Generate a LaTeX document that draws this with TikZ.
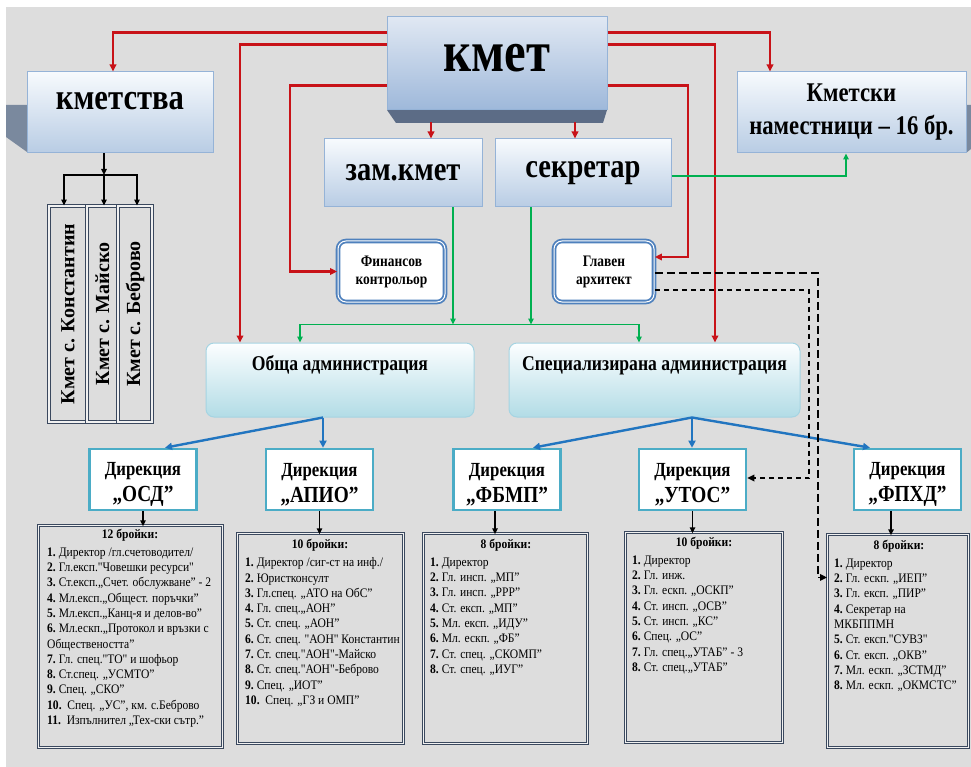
\documentclass[tikz,border=0pt]{standalone}
\usepackage{fontspec}
\setmainfont{Liberation Serif}
\newfontfamily\narrow[FakeStretch=0.84]{Liberation Serif}
\newfontfamily\listfont[FakeStretch=0.89]{Liberation Serif}
\usepackage{graphicx}
\usepackage{tikz}
\usetikzlibrary{arrows.meta}
\definecolor{bggray}{RGB}{221, 221, 221}
\definecolor{kred}{RGB}{200, 18, 24}
\definecolor{kgreen}{RGB}{0, 176, 80}
\definecolor{kblue}{RGB}{33, 117, 192}
\definecolor{boxtop}{RGB}{247, 250, 253}
\definecolor{boxbot}{RGB}{184, 204, 228}
\definecolor{boxedge}{RGB}{149, 179, 215}
\definecolor{kmettop}{RGB}{224, 232, 243}
\definecolor{kmetbot}{RGB}{158, 184, 218}
\definecolor{bevelcol}{RGB}{92, 108, 134}
\definecolor{shadowcol}{RGB}{122, 137, 158}
\definecolor{admtop}{RGB}{252, 254, 255}
\definecolor{admbot}{RGB}{178, 220, 230}
\definecolor{admedge}{RGB}{165, 212, 226}
\definecolor{diredge}{RGB}{75, 172, 198}
\definecolor{finedge}{RGB}{79, 129, 189}
\definecolor{listedge}{RGB}{58, 72, 94}

\tikzset{
  gradbox/.style={draw=boxedge, line width=1pt, top color=boxtop, bottom color=boxbot,
    align=center, font=\narrow\bfseries\fontsize{34}{38}\selectfont},
  admbox/.style={draw=admedge, line width=1pt, rounded corners=8pt, top color=admtop, bottom color=admbot},
  admtext/.style={anchor=base, font=\narrow\bfseries\fontsize{21}{24}\selectfont},
  finbox/.style={draw=finedge, line width=1.8pt, double=white, double distance=1pt,
    rounded corners=8pt, fill=white, align=center, font=\narrow\bfseries\fontsize{16}{18}\selectfont},
  dirbox/.style={draw=diredge, line width=2.6pt, fill=white, minimum width=107pt, minimum height=61pt},
  dirtext/.style={align=center, yshift=-5pt, font=\narrow\bfseries\fontsize{20}{26}\selectfont},
  listbox/.style={draw=listedge, line width=0.9pt, double=bggray!40!white, double distance=1.4pt, anchor=north west},
  listhead/.style={anchor=base, font=\listfont\bfseries\fontsize{13}{15.3}\selectfont},
  listtext/.style={anchor=north west, align=left, inner sep=0pt, font=\listfont\fontsize{13}{15.3}\selectfont},
  vbox/.style={draw=listedge, line width=0.9pt, double=bggray!40!white, double distance=1.4pt,
    minimum height=216pt, inner sep=0pt, font=\bfseries\fontsize{20}{24}\selectfont},
  redarr/.style={kred, line width=2.4pt, -{Triangle[length=7pt, width=6.5pt]}},
  greenarr/.style={kgreen, line width=1.6pt, -{Triangle[length=6pt, width=5.5pt]}},
  bluearr/.style={kblue, line width=2.4pt, -{Triangle[length=7pt, width=7pt]}},
  blackarr/.style={black, line width=1.4pt, -{Triangle[length=6pt, width=5.5pt]}},
  dasharr/.style={black, line width=1.8pt, -{Triangle[length=7pt, width=6.5pt]}}
}
\newcommand{\nr}[1]{\textbf{#1.}\ }

\begin{document}
\begin{tikzpicture}[x=1pt, y=-1pt]
  \useasboundingbox (0,0) rectangle (971,767);
  \fill[bggray] (6,7) rectangle (971,767);

  % shadows and bevel
  \fill[shadowcol] (6,105) -- (27,105) -- (27,152) -- (6,137) -- cycle;
  \fill[shadowcol] (966,105) -- (971,105) -- (971,149) -- (966,153) -- cycle;
  \fill[bevelcol] (387,110) -- (607,110) -- (603,123) -- (396,123) -- cycle;

  % top level
  \node[draw=boxedge, line width=1pt, top color=kmettop, bottom color=kmetbot,
    minimum width=220pt, minimum height=93pt] (kmet) at (497,63.5) {};
  \node[anchor=base, font=\narrow\bfseries\fontsize{58}{60}\selectfont] (kmet-t) at (497,72) {кмет};

  \node[gradbox, minimum width=186pt, minimum height=81pt] (kmetstva) at (120,112.5) {};
  \node[anchor=base, font=\narrow\bfseries\fontsize{36.5}{40}\selectfont] (kmetstva-t) at (120,110) {кметства};
  \node[gradbox, minimum width=229pt, minimum height=81pt,
    font=\narrow\bfseries\fontsize{27}{33}\selectfont] (kmetski) at (851.5,112.5) {Кметски\\наместници – 16 бр.};

  \node[gradbox, minimum width=158pt, minimum height=68pt] (zam) at (403,173) {зам.кмет};
  \node[gradbox, minimum width=176pt, minimum height=68pt] (sekr) at (583,173) {секретар};

  \node[finbox, minimum width=107pt, minimum height=61pt] (fin) at (391.5,271.5) {Финансов\\контрольор};
  \node[finbox, minimum width=100pt, minimum height=61pt] (glaven) at (604,271.5) {Главен\\архитект};

  % administrations
  \node[admbox, minimum width=268pt, minimum height=74pt] (obshta) at (340,380) {};
  \node[admtext] (obshta-t) at (340,370) {Обща администрация};
  \node[admbox, minimum width=291pt, minimum height=74pt] (spec) at (654.5,380) {};
  \node[admtext] (spec-t) at (654.5,370) {Специализирана администрация};

  % directions
  \foreach \nm/\lbl/\x in {osd/ОСД/143, apio/АПИО/319.5, fbmp/ФБМП/507, utos/УТОС/692.5, fphd/ФПХД/907.5}
    \node[dirbox, label={[dirtext]center:{Дирекция\\{\fontsize{23}{26}\selectfont „\lbl”}}}] (\nm) at (\x,479.5) {};

  % villages
  \foreach \nm/\lbl/\x/\w in {v1/Константин/68/38, v2/Майско/102.5/31, v3/Беброво/135/34}
    \node[vbox, minimum width=\w*1pt] (\nm) at (\x,314) {\rotatebox{90}{Кмет с. \lbl}};

  % staff lists
  \node[listbox, minimum width=184pt, minimum height=222pt] (l1) at (38,525) {};
  \node[listhead] (h1) at (130,538) {12 бройки:};
  \node[listtext] (t1) at (47,547.5) {\nr{1}Директор /гл.счетоводител/\\
    \nr{2}Гл.експ."Човешки ресурси"\\
    \nr{3}Ст.експ.„Счет. обслужване”  - 2\\
    \nr{4}Мл.експ.„Общест. поръчки”\\
    \nr{5}Мл.експ.„Канц-я и делов-во”\\
    \nr{6}Мл.ескп.„Протокол и връзки с\\
    Обществеността”\\
    \nr{7}Гл. спец."ТО" и шофьор\\
    \nr{8}Ст.спец. „УСМТО”\\
    \nr{9}Спец. „СКО”\\
    \nr{10}\ Спец. „УС”, км. с.Беброво\\
    \nr{11}\ Изпълнител „Тех-ски сътр.”};

  \node[listbox, minimum width=166pt, minimum height=210pt] (l2) at (237,533) {};
  \node[listhead] (h2) at (320,548) {10 бройки:};
  \node[listtext] (t2) at (245,557.5) {\nr{1}Директор /сиг-ст на инф./\\
    \nr{2}Юристконсулт\\
    \nr{3}Гл.спец. „АТО на ОбС”\\
    \nr{4}Гл. спец.„АОН”\\
    \nr{5}Ст. спец. „АОН”\\
    \nr{6}Ст. спец. "АОН" Константин\\
    \nr{7}Ст. спец."АОН"-Майско\\
    \nr{8}Ст. спец."АОН"-Беброво\\
    \nr{9}Спец. „ИОТ”\\
    \nr{10}\ Спец. „ГЗ и ОМП”};

  \node[listbox, minimum width=164pt, minimum height=210pt] (l3) at (423,533) {};
  \node[listhead] (h3) at (506,548) {8 бройки:};
  \node[listtext] (t3) at (430,557.5) {\nr{1}Директор\\
    \nr{2}Гл. инсп. „МП”\\
    \nr{3}Гл. инсп. „РРР”\\
    \nr{4}Ст. експ. „МП”\\
    \nr{5}Мл. експ. „ИДУ”\\
    \nr{6}Мл. ескп. „ФБ”\\
    \nr{7}Ст. спец. „СКОМП”\\
    \nr{8}Ст. спец. „ИУГ”};

  \node[listbox, minimum width=157pt, minimum height=210pt] (l4) at (625,532) {};
  \node[listhead] (h4) at (704,546) {10 бройки:};
  \node[listtext] (t4) at (632,555.5) {\nr{1}Директор\\
    \nr{2}Гл. инж.\\
    \nr{3}Гл. ескп. „ОСКП”\\
    \nr{4}Ст. инсп. „ОСВ”\\
    \nr{5}Ст. инсп. „КС”\\
    \nr{6}Спец. „ОС”\\
    \nr{7}Гл. спец.„УТАБ” - 3\\
    \nr{8}Ст. спец.„УТАБ”};

  \node[listbox, minimum width=141pt, minimum height=213pt] (l5) at (827,534) {};
  \node[listhead] (h5) at (899,549) {8 бройки:};
  \node[listtext] (t5) at (834,558.5) {\nr{1}Директор\\
    \nr{2}Гл. ескп. „ИЕП”\\
    \nr{3}Гл. експ. „ПИР”\\
    \nr{4}Секретар на\\
    МКБППМН\\
    \nr{5}Ст. експ."СУВЗ"\\
    \nr{6}Ст. експ. „ОКВ”\\
    \nr{7}Мл. ескп. „ЗСТМД”\\
    \nr{8}Мл. ескп. „ОКМСТС”};

  % red links from the mayor
  \draw[redarr] ([yshift=-16pt]kmet.north west) -| ([xshift=-7pt]kmetstva.north);
  \draw[redarr] ([yshift=-28pt]kmet.north west) -| ([xshift=-100pt]obshta.north);
  \draw[redarr] ([yshift=-69pt]kmet.north west) -| ([xshift=-47pt]fin.west) -- (fin.west);
  \draw[redarr] ([yshift=-16pt]kmet.north east) -| ([xshift=-81.5pt]kmetski.north);
  \draw[redarr] ([yshift=-28pt]kmet.north east) -| ([xshift=60.5pt]spec.north);
  \draw[redarr] ([yshift=-69pt]kmet.north east) -| ([xshift=33pt, yshift=14.5pt]glaven.east) -- ([yshift=14.5pt]glaven.east);
  \draw[redarr] ([xshift=28pt, yshift=16pt]zam.north) -- ([xshift=28pt]zam.north);
  \draw[redarr] ([xshift=-8pt, yshift=16pt]sekr.north) -- ([xshift=-8pt]sekr.north);

  % green links
  \coordinate (gbar) at ([yshift=18pt]obshta.north);
  \coordinate (zg) at ([xshift=50pt]zam.south);
  \coordinate (sg) at ([xshift=-52pt]sekr.south);
  \draw[greenarr] ([yshift=-3pt]sekr.east) -| ([xshift=-5.5pt]kmetski.south);
  \draw[greenarr] (zg) -- (zg |- gbar);
  \draw[greenarr] (sg) -- (sg |- gbar);
  \draw[greenarr, {Triangle[length=6pt, width=5.5pt]}-{Triangle[length=6pt, width=5.5pt]}]
    ([xshift=-40pt]obshta.north) |- (gbar) -| ([xshift=-15.5pt]spec.north);

  % blue links
  \coordinate (ob) at ([xshift=-17pt]obshta.south);
  \coordinate (sp) at ([xshift=37.5pt]spec.south);
  \draw[bluearr] (ob) -- ([xshift=22pt]osd.north);
  \draw[bluearr] (ob) -- (ob |- apio.north);
  \draw[bluearr] (sp) -- ([xshift=26pt]fbmp.north);
  \draw[bluearr] (sp) -- (sp |- utos.north);
  \draw[bluearr] (sp) -- ([xshift=-37.5pt]fphd.north);

  % black links
  \coordinate (vj) at (104,175);
  \draw[blackarr] (kmetstva.south -| vj) -- (vj);
  \draw[blackarr] (vj) -- (vj |- v2.north);
  \draw[blackarr] (vj) -| ([xshift=-4pt]v1.north);
  \draw[blackarr] (vj) -| ([xshift=2pt]v3.north);
  \draw[blackarr] (osd.south) -- ++(0,15);
  \draw[blackarr] (apio.south) -- ++(0,23);
  \draw[blackarr] ([xshift=-12pt]fbmp.south) -- ++(0,23);
  \draw[blackarr] (utos.south) -- ++(0,22);
  \draw[blackarr] ([xshift=-16.5pt]fphd.south) -- ++(0,24);

  % dashed links from the architect
  \draw[dasharr, dash pattern=on 8pt off 4pt] ([yshift=-1.5pt]glaven.east)
    -| ([xshift=-9pt, yshift=63.5pt]l5.west) -- ([yshift=63.5pt]l5.west);
  \draw[dasharr, dash pattern=on 5pt off 4pt] ([yshift=-18.5pt]glaven.east)
    -| ([xshift=62pt, yshift=1.5pt]utos.east) -- ([yshift=1.5pt]utos.east);
\end{tikzpicture}
\end{document}
